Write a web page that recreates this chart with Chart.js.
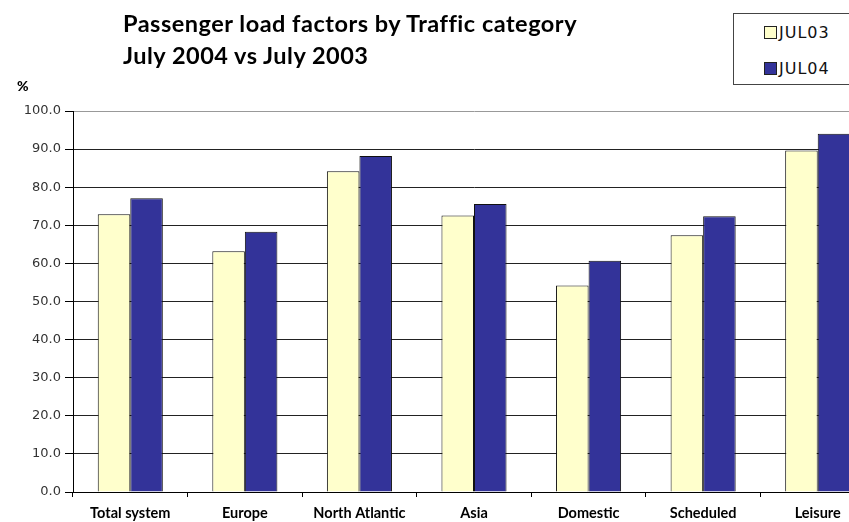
<!DOCTYPE html>
<html>
<head>
<meta charset="utf-8">
<script src="https://cdn.jsdelivr.net/npm/chart.js@4"></script>
<style>
  html, body { margin: 0; padding: 0; background: #fff; overflow: hidden; width: 849px; height: 522px; }
  #wrap { position: relative; width: 875px; height: 522px; }
  #title { position: absolute; left: 123px; top: 7px; font-family: Lato, sans-serif; font-weight: bold; font-size: 23.5px; letter-spacing: 0.5px; line-height: 32px; color: #000; white-space: nowrap; }
  #unit { position: absolute; left: 17px; top: 77px; font-family: Lato, sans-serif; font-weight: 900; font-size: 14px; color: #000; }
  #legend { position: absolute; left: 733px; top: 13px; width: 140px; height: 70px; border: 1px solid #444; background: #fff; font-family: "DejaVu Sans", sans-serif; font-size: 16px; color: #111; }
  #legend .row { position: absolute; left: 30px; height: 20px; line-height: 20px; letter-spacing: 1px; white-space: nowrap; }
  #legend .sw { display: inline-block; width: 11px; height: 11px; border: 1px solid #222; margin-right: 2px; vertical-align: -1px; }
</style>
</head>
<body>
<div id="wrap">
  <canvas id="chart" width="875" height="522"></canvas>
  <div id="title">Passenger load factors by Traffic category<br>July 2004 vs July 2003</div>
  <div id="unit">%</div>
  <div id="legend"></div>
</div>
<script>
const categories = ['Total system', 'Europe', 'North Atlantic', 'Asia', 'Domestic', 'Scheduled', 'Leisure'];
const jul03 = [72.9, 63.2, 84.2, 72.6, 54.2, 67.4, 89.6];
const jul04 = [77.1, 68.3, 88.2, 75.6, 60.7, 72.4, 94.0];
const seriesNames = ['JUL03', 'JUL04'];
const yTicks = [0, 10, 20, 30, 40, 50, 60, 70, 80, 90, 100];

const chart = new Chart(document.getElementById('chart'), {
  type: 'bar',
  data: {
    labels: categories,
    datasets: [
      { label: seriesNames[0], data: jul03, backgroundColor: '#FFFFCC', borderColor: '#111', borderWidth: 1 },
      { label: seriesNames[1], data: jul04, backgroundColor: '#333399', borderColor: '#111', borderWidth: 1 }
    ]
  },
  options: {
    responsive: false,
    animation: false,
    layout: { padding: { top: 111, right: 0, bottom: 0, left: 0 } },
    datasets: { bar: { categoryPercentage: 0.568, barPercentage: 1 } },
    plugins: { legend: { display: false }, title: { display: false }, tooltip: { enabled: false } },
    scales: {
      x: {
        grid: { drawOnChartArea: false, offset: true, tickLength: 5, color: '#000' },
        border: { color: '#000', width: 1 },
        ticks: { color: '#000', font: { family: 'Lato', weight: 'bold', size: 14.5 }, padding: 8, maxRotation: 0, autoSkip: false },
        afterFit: s => { s.height = 30; }
      },
      y: {
        min: 0, max: 100,
        afterBuildTicks: s => { s.ticks = yTicks.map(v => ({ value: v })); },
        grid: {
          color: c => (c.tick && c.tick.value === 100) ? '#999' : '#222',
          tickColor: '#000', tickLength: 8
        },
        border: { color: '#000', width: 1 },
        ticks: {
          color: '#333', padding: 4,
          font: { family: 'DejaVu Sans', size: 13 },
          callback: v => Number(v).toFixed(1)
        },
        afterFit: s => { s.width = 73; }
      }
    }
  }
});

// html legend built from the datasets
const legend = document.getElementById('legend');
chart.data.datasets.forEach((ds, i) => {
  const row = document.createElement('div');
  row.className = 'row';
  row.style.top = (9 + i * 36) + 'px';
  const sw = document.createElement('span');
  sw.className = 'sw';
  sw.style.background = ds.backgroundColor;
  row.appendChild(sw);
  row.appendChild(document.createTextNode(ds.label));
  legend.appendChild(row);
});
</script>
</body>
</html>
